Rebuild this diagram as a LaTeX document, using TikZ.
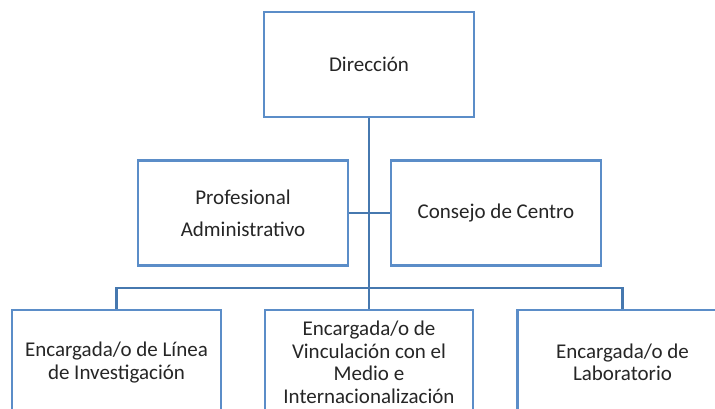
\documentclass[tikz,border=0pt]{standalone}
\usepackage{fontspec}
\setmainfont{Carlito}
\usetikzlibrary{backgrounds}
\definecolor{boxblue}{RGB}{91,141,200}
\definecolor{lineblue}{RGB}{70,120,175}
\definecolor{txt}{RGB}{38,38,38}
\tikzset{
  orgbox/.style={draw=boxblue, line width=1.9pt, fill=white, rectangle, inner sep=0pt,
    minimum width=157.5pt, minimum height=78.75pt, align=center, text=txt,
    font=\fontsize{15.75pt}{16.9pt}\selectfont},
  widebox/.style={orgbox, font=\fontsize{15.75pt}{24pt}\selectfont},
  conn/.style={draw=lineblue, line width=2pt}
}
\begin{document}
\begin{tikzpicture}[x=0.75pt, y=-0.75pt]
\useasboundingbox (0,0) rectangle (715,409);
\clip (0,0) rectangle (715,409);
\node[orgbox] (dir) at (369,64.5) {Dirección};
\node[widebox] (prof) at (243,213) {Profesional\\Administrativo};
\node[orgbox] (cons) at (496,213) {Consejo de Centro};
\node[orgbox, minimum width=156.75pt] (left) at (116.5,362.5) {Encargada/o de Línea\\de Investigación};
\node[orgbox, minimum width=156pt] (mid) at (369,362.5) {Encargada/o de\\Vinculación con el\\Medio e\\Internacionalización};
\node[orgbox] (right) at (622.5,362.5) {Encargada/o de\\Laboratorio};
\coordinate (bus) at (369,288);
\begin{pgfonlayer}{background}
\draw[conn] (dir.south) -- (bus);
\draw[conn] (prof.east) -- (cons.west);
\draw[conn] (left.north) |- (bus) -| (right.north);
\draw[conn] (bus) -- (mid.north);
\end{pgfonlayer}
\end{tikzpicture}
\end{document}
